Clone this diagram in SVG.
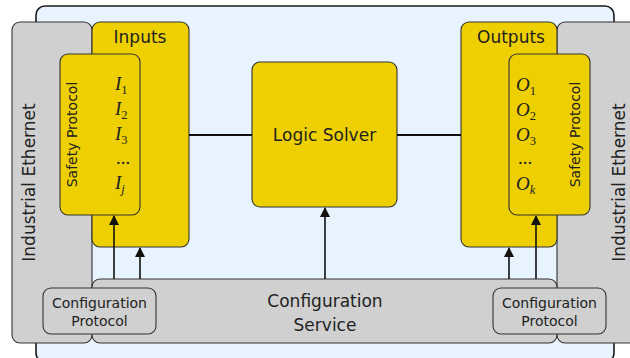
<svg xmlns="http://www.w3.org/2000/svg" width="630" height="358" viewBox="0 0 630 358">
  <style>
    .frame { fill: #e7f3fe; stroke: #1a1a1a; stroke-width: 1.6; }
    .gray { fill: #d0d0d0; stroke: #333; stroke-width: 1.1; }
    .yellow { fill: #eed000; stroke: #333; stroke-width: 1.1; }
    .lbl { font-family: "DejaVu Sans", sans-serif; font-size: 17px; fill: #222; text-anchor: middle; }
    .small { font-family: "DejaVu Sans", sans-serif; font-size: 14px; fill: #222; text-anchor: middle; }
    .m { font-family: "Liberation Serif", "DejaVu Serif", serif; font-size: 19px; font-style: italic; fill: #222; }
    .sub { font-size: 12.5px; font-style: normal; }
    .subi { font-size: 12.5px; font-style: italic; }
    .bus { stroke: #111; stroke-width: 2.2; fill: none; }
    .arr { stroke: #111; stroke-width: 1.6; fill: none; marker-end: url(#tip); }
  </style>
  <defs>
    <marker id="tip" viewBox="0 0 10 12" refX="9" refY="6" markerWidth="11" markerHeight="12" markerUnits="userSpaceOnUse" orient="auto">
      <path d="M0,1 L10,6 L0,11 Z" fill="#111"/>
    </marker>
  </defs>

  <!-- enclosing system frame -->
  <rect class="frame" x="36" y="6" width="578" height="356" rx="9"/>

  <!-- field bus on both sides -->
  <g id="ethernet-left">
    <rect class="gray" x="12" y="22" width="80" height="321" rx="8"/>
    <text class="lbl" transform="translate(34.5,182.5) rotate(-90)">Industrial Ethernet</text>
  </g>
  <g id="ethernet-right">
    <rect class="gray" x="557" y="22" width="85" height="321" rx="8"/>
    <text class="lbl" transform="translate(625,182.5) rotate(-90)">Industrial Ethernet</text>
  </g>

  <!-- configuration service -->
  <g id="config-service">
    <rect class="gray" x="92" y="279" width="465" height="64" rx="8"/>
    <text class="lbl" x="325" y="306.5">Configuration</text>
    <text class="lbl" x="325" y="330.5">Service</text>
  </g>

  <!-- input side -->
  <g id="inputs">
    <rect class="yellow" x="92" y="22" width="97" height="225" rx="8"/>
    <text class="lbl" x="140" y="43">Inputs</text>
  </g>
  <g id="safety-in">
    <rect class="yellow" x="60" y="54" width="80" height="161" rx="8"/>
    <text class="small" transform="translate(77,134.5) rotate(-90)">Safety Protocol</text>
    <text class="m" x="115" y="90">I<tspan class="sub" dy="4">1</tspan></text>
    <text class="m" x="115" y="115">I<tspan class="sub" dy="4">2</tspan></text>
    <text class="m" x="115" y="140">I<tspan class="sub" dy="4">3</tspan></text>
    <text class="m" x="116" y="164" style="font-style:normal">...</text>
    <text class="m" x="115" y="189">I<tspan class="subi" dy="4">j</tspan></text>
  </g>

  <!-- output side -->
  <g id="outputs">
    <rect class="yellow" x="461" y="22" width="96" height="225" rx="8"/>
    <text class="lbl" x="511" y="43">Outputs</text>
  </g>
  <g id="safety-out">
    <rect class="yellow" x="509" y="54" width="81" height="161" rx="8"/>
    <text class="small" transform="translate(580,134.5) rotate(-90)">Safety Protocol</text>
    <text class="m" x="516" y="91">O<tspan class="sub" dy="4">1</tspan></text>
    <text class="m" x="516" y="116">O<tspan class="sub" dy="4">2</tspan></text>
    <text class="m" x="516" y="141">O<tspan class="sub" dy="4">3</tspan></text>
    <text class="m" x="518" y="164" style="font-style:normal">...</text>
    <text class="m" x="516" y="190">O<tspan class="subi" dy="4">k</tspan></text>
  </g>

  <!-- configuration protocol endpoints -->
  <g id="config-proto-left">
    <rect class="gray" x="43" y="288" width="113" height="46" rx="8"/>
    <text class="small" x="99.5" y="308">Configuration</text>
    <text class="small" x="99.5" y="326">Protocol</text>
  </g>
  <g id="config-proto-right">
    <rect class="gray" x="493" y="288" width="113" height="46" rx="8"/>
    <text class="small" x="549.5" y="308">Configuration</text>
    <text class="small" x="549.5" y="326">Protocol</text>
  </g>

  <!-- logic solver -->
  <g id="logic-solver">
    <rect class="yellow" x="252" y="62" width="145" height="145" rx="8"/>
    <text class="lbl" x="324.5" y="141">Logic Solver</text>
  </g>

  <!-- connectors -->
  <g id="connectors">
    <line class="bus" x1="189" y1="135" x2="252" y2="135"/>
    <line class="bus" x1="397" y1="135" x2="461" y2="135"/>
    <line class="arr" x1="114" y1="279" x2="114" y2="216"/>
    <line class="arr" x1="140" y1="279" x2="140" y2="248"/>
    <line class="arr" x1="325" y1="279" x2="325" y2="208"/>
    <line class="arr" x1="509" y1="279" x2="509" y2="248"/>
    <line class="arr" x1="536" y1="279" x2="536" y2="216"/>
  </g>
</svg>
